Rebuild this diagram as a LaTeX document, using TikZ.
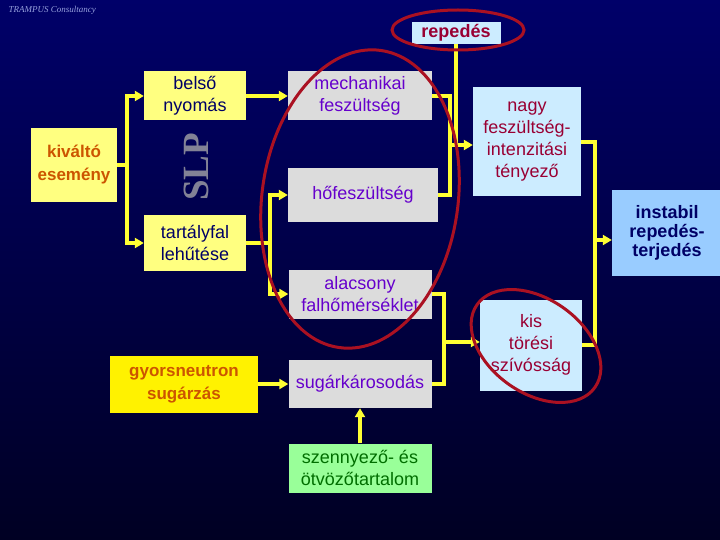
\documentclass[tikz,border=0pt]{standalone}
\usepackage{fontspec}
\setmainfont{Liberation Sans}
\newfontfamily\serifTR{Liberation Serif}
\usetikzlibrary{arrows.meta}
\definecolor{ylw}{HTML}{FFFF80}
\definecolor{gry}{HTML}{DCDCDC}
\definecolor{lbl}{HTML}{CCECFF}
\definecolor{mbl}{HTML}{99CCFF}
\definecolor{grn}{HTML}{99FF99}
\definecolor{navy}{HTML}{000066}
\definecolor{purp}{HTML}{6600CC}
\definecolor{dred}{HTML}{990033}
\definecolor{orng}{HTML}{CC5500}
\definecolor{ellc}{HTML}{AA1122}
\definecolor{conn}{HTML}{FFFF33}
\begin{document}
\begin{tikzpicture}[x=1pt,y=-1pt,
  box/.style={draw=none,inner sep=0pt,align=center,font=\fontsize{18}{22}\selectfont},
  yb/.style={box,fill=ylw,text=navy},
  gb/.style={box,fill=gry,text=purp},
  bb/.style={box,fill=lbl,text=dred},
  ln/.style={conn,line width=3.2pt},
  ar/.style={ln,-{Triangle[length=9pt,width=10pt]}},
  ell/.style={draw=ellc,line width=3pt}]
\shade[top color={rgb,255:red,0;green,0;blue,105},bottom color={rgb,255:red,0;green,0;blue,35}] (0,0) rectangle (720,540);
\useasboundingbox (0,0) rectangle (720,540);
\node[anchor=north west,text={rgb,255:red,150;green,160;blue,220},font=\serifTR\itshape\fontsize{9}{10}\selectfont] (title) at (5,3) {TRAMPUS Consultancy};
% boxes
\node[yb,text=orng,font=\bfseries\fontsize{17}{23}\selectfont,minimum width=86pt,minimum height=74pt] (kiv) at (74,165) {kiváltó\\esemény};
\node[yb,minimum width=102pt,minimum height=49pt] (bel) at (195,96) {belső\\nyomás};
\node[yb,minimum width=102pt,minimum height=55pt] (tar) at (195,243) {tartályfal\\lehűtése};
\node[rotate=90,text={rgb,255:red,130;green,130;blue,150},font=\serifTR\bfseries\fontsize{37}{37}\selectfont] (slp) at (196,167) {SLP};
\node[gb,minimum width=144pt,minimum height=49pt] (mec) at (360,96) {mechanikai\\feszültség};
\node[gb,minimum width=150pt,minimum height=54pt] (hof) at (363,195) {hőfeszültség};
\node[gb,minimum width=143pt,minimum height=49pt] (ala) at (360,294) {alacsony\\falhőmérséklet};
\node[gb,minimum width=143pt,minimum height=48pt] (sug) at (360,384) {sugárkárosodás};
\node[box,fill=grn,text={rgb,255:red,0;green,110;blue,0},minimum width=143pt,minimum height=49pt] (szen) at (360,468) {szennyező- és\\ötvözőtartalom};
\node[box,fill=yellow,text=orng,font=\bfseries\fontsize{17}{23}\selectfont,minimum width=148pt,minimum height=57pt] (gyo) at (184,384) {gyorsneutron\\sugárzás};
\node[bb,minimum width=108pt,minimum height=109pt] (nagy) at (527,142) {nagy\\feszültség-\\intenzitási\\tényező};
\node[bb,minimum width=102pt,minimum height=91pt] (kis) at (531,345) {kis\\törési\\szívósság};
\node[box,fill=mbl,text=navy,font=\bfseries\fontsize{18}{19}\selectfont,minimum width=110pt,minimum height=85pt] (ins) at (667,233) {instabil\\repedés-\\terjedés};
\node[bb,font=\bfseries\fontsize{18}{21}\selectfont,minimum width=89pt,minimum height=22pt] (rep) at (456,33) {repedés};
% connectors
\coordinate (j1) at (127,165);
\draw[ln] (kiv.east) -- (j1);
\draw[ar] (j1) |- (bel.west);
\draw[ar] (j1) |- (tar.west);
\draw[ar] (bel.east) -- (mec.west);
\coordinate (j2) at (270,243);
\draw[ln] (tar.east) -- (j2);
\draw[ar] (j2) |- (hof.west);
\draw[ar] (j2) |- (ala.west);
\coordinate (j3) at (450,145);
\draw[ln] (mec.east) -| (j3);
\draw[ln] (hof.east) -| (j3);
\draw[ln] (rep.south) -- (456,145);
\draw[ar] (j3) -- (nagy.west |- j3);
\coordinate (j4) at (444,342);
\draw[ln] (ala.east) -| (j4);
\draw[ln] (sug.east) -| (j4);
\draw[ar] (j4) -- (kis.west |- j4);
\draw[ar] (gyo.east) -- (sug.west);
\draw[ar] (szen.north) -- (sug.south);
\coordinate (j5) at (595,240);
\draw[ln] (nagy.east) -| (j5);
\draw[ln] (kis.east) -| (j5);
\draw[ar] (j5) -- (ins.west |- j5);
% ellipses
\draw[ell] (458,30) ellipse[x radius=66,y radius=20];
\draw[ell,rotate around={-8:(360,199)}] (360,199) ellipse[x radius=98,y radius=150];
\draw[ell,rotate around={-35:(536,346)}] (536,346) ellipse[x radius=72,y radius=47];
\end{tikzpicture}
\end{document}
